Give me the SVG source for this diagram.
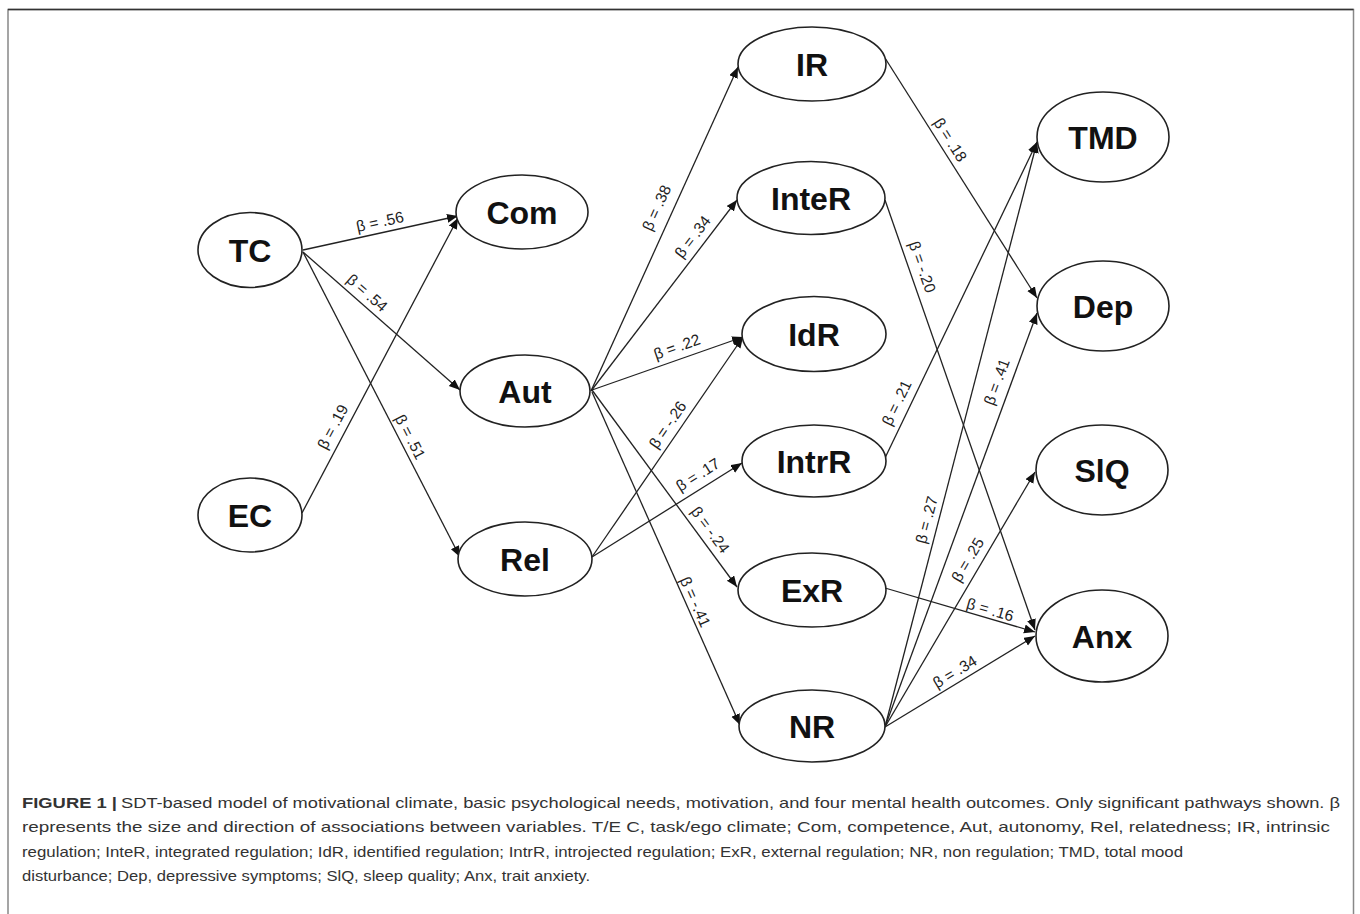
<svg xmlns="http://www.w3.org/2000/svg" width="1360" height="914" viewBox="0 0 1360 914">
<style>
.node ellipse{fill:#fff;stroke:#222;stroke-width:1.6}
.node text{font-family:"Liberation Sans",Arial,sans-serif;font-weight:bold;font-size:32px;fill:#111;text-anchor:middle}
#edges line{stroke:#222;stroke-width:1.3;marker-end:url(#ah)}
.lbl{font-family:"Liberation Sans",Arial,sans-serif;font-size:15.5px;fill:#222;text-anchor:middle}
.cap{font-family:"Liberation Sans",Arial,sans-serif;font-size:15px;fill:#333}
</style>
<defs>
<marker id="ah" markerUnits="userSpaceOnUse" markerWidth="12" markerHeight="10" refX="11" refY="4.5" orient="auto">
<path d="M0,0 L11,4.5 L0,9 Z" fill="#111"/>
</marker>
</defs>
<rect x="0" y="0" width="1360" height="914" fill="#fff"/>
<rect x="8" y="9.5" width="1345.5" height="910" fill="none" stroke="#888" stroke-width="1.5"/>
<line x1="8" y1="9.5" x2="1353.5" y2="9.5" stroke="#333" stroke-width="1.5"/>

<g id="edges">
<line x1="303" y1="250" x2="458" y2="216"/>
<line x1="303" y1="252" x2="460" y2="390"/>
<line x1="303" y1="252" x2="460" y2="557"/>
<line x1="302" y1="513" x2="458" y2="218"/>
<line x1="591" y1="391" x2="738" y2="67"/>
<line x1="591" y1="391" x2="737" y2="200"/>
<line x1="592" y1="390" x2="743" y2="337"/>
<line x1="592" y1="557" x2="743" y2="337"/>
<line x1="592" y1="557" x2="742" y2="463"/>
<line x1="592" y1="390" x2="737" y2="587"/>
<line x1="592" y1="392" x2="740" y2="725"/>
<line x1="885" y1="58" x2="1037" y2="298"/>
<line x1="885" y1="200" x2="1035" y2="630"/>
<line x1="885" y1="458" x2="1037" y2="142"/>
<line x1="885" y1="588" x2="1035" y2="632"/>
<line x1="885" y1="727" x2="1037" y2="142"/>
<line x1="885" y1="727" x2="1037" y2="313"/>
<line x1="885" y1="727" x2="1035" y2="472"/>
<line x1="885" y1="727" x2="1035" y2="636"/>
</g>

<g id="labels">
<text class="lbl" transform="translate(380,222) rotate(-12.4)" dy="5">β = .56</text>
<text class="lbl" transform="translate(367,293) rotate(41.3)" dy="5">β = .54</text>
<text class="lbl" transform="translate(410,437) rotate(62.8)" dy="5">β = .51</text>
<text class="lbl" transform="translate(333,427) rotate(-62.1)" dy="5">β = .19</text>
<text class="lbl" transform="translate(657,208) rotate(-65.6)" dy="5">β = .38</text>
<text class="lbl" transform="translate(693,237) rotate(-52.6)" dy="5">β = .34</text>
<text class="lbl" transform="translate(677,347) rotate(-19.3)" dy="5">β = .22</text>
<text class="lbl" transform="translate(668,425) rotate(-55.5)" dy="5">β = -.26</text>
<text class="lbl" transform="translate(698,475) rotate(-32.1)" dy="5">β = .17</text>
<text class="lbl" transform="translate(710,530) rotate(53.6)" dy="5">β = -.24</text>
<text class="lbl" transform="translate(695,602) rotate(66)" dy="5">β = -.41</text>
<text class="lbl" transform="translate(950,140) rotate(57.7)" dy="5">β = .18</text>
<text class="lbl" transform="translate(922,267) rotate(70.8)" dy="5">β = -.20</text>
<text class="lbl" transform="translate(897,403) rotate(-64.3)" dy="5">β = .21</text>
<text class="lbl" transform="translate(990,610) rotate(16.3)" dy="5">β = .16</text>
<text class="lbl" transform="translate(927,520) rotate(-75.4)" dy="5">β = .27</text>
<text class="lbl" transform="translate(997,382) rotate(-69.8)" dy="5">β = .41</text>
<text class="lbl" transform="translate(968,560) rotate(-59.5)" dy="5">β = .25</text>
<text class="lbl" transform="translate(955,672) rotate(-31.2)" dy="5">β = .34</text>
</g>

<g id="TC" class="node"><ellipse cx="250" cy="250" rx="52" ry="37.5"/><text x="250" y="262">TC</text></g>
<g id="EC" class="node"><ellipse cx="250" cy="515" rx="52" ry="37"/><text x="250" y="527">EC</text></g>
<g id="Com" class="node"><ellipse cx="522" cy="212" rx="66" ry="37"/><text x="522" y="224">Com</text></g>
<g id="Aut" class="node"><ellipse cx="525" cy="391" rx="65" ry="36"/><text x="525" y="403">Aut</text></g>
<g id="Rel" class="node"><ellipse cx="525" cy="559" rx="67" ry="37"/><text x="525" y="571">Rel</text></g>
<g id="IR" class="node"><ellipse cx="812" cy="64" rx="74" ry="37"/><text x="812" y="76">IR</text></g>
<g id="InteR" class="node"><ellipse cx="811" cy="198" rx="74" ry="36.5"/><text x="811" y="210">InteR</text></g>
<g id="IdR" class="node"><ellipse cx="814" cy="334" rx="72" ry="37.5"/><text x="814" y="346">IdR</text></g>
<g id="IntrR" class="node"><ellipse cx="814" cy="461" rx="72" ry="36"/><text x="814" y="473">IntrR</text></g>
<g id="ExR" class="node"><ellipse cx="812" cy="590" rx="74" ry="37"/><text x="812" y="602">ExR</text></g>
<g id="NR" class="node"><ellipse cx="812" cy="726" rx="73" ry="36"/><text x="812" y="738">NR</text></g>
<g id="TMD" class="node"><ellipse cx="1103" cy="137" rx="66" ry="45"/><text x="1103" y="149">TMD</text></g>
<g id="Dep" class="node"><ellipse cx="1103" cy="306" rx="66" ry="45"/><text x="1103" y="318">Dep</text></g>
<g id="SlQ" class="node"><ellipse cx="1102" cy="470" rx="66" ry="45"/><text x="1102" y="482">SlQ</text></g>
<g id="Anx" class="node"><ellipse cx="1102" cy="636" rx="66" ry="46"/><text x="1102" y="648">Anx</text></g>

<g id="caption">
<text class="cap" x="22" y="808" font-weight="bold" fill="#222" textLength="95" lengthAdjust="spacingAndGlyphs">FIGURE 1 |</text>
<text class="cap" x="121" y="808" textLength="1219" lengthAdjust="spacingAndGlyphs">SDT-based model of motivational climate, basic psychological needs, motivation, and four mental health outcomes. Only significant pathways shown. β</text>
<text class="cap" x="22" y="832" textLength="1308" lengthAdjust="spacingAndGlyphs">represents the size and direction of associations between variables. T/E C, task/ego climate; Com, competence, Aut, autonomy, Rel, relatedness; IR, intrinsic</text>
<text class="cap" x="22" y="857" textLength="1161" lengthAdjust="spacingAndGlyphs">regulation; InteR, integrated regulation; IdR, identified regulation; IntrR, introjected regulation; ExR, external regulation; NR, non regulation; TMD, total mood</text>
<text class="cap" x="22" y="881" textLength="568" lengthAdjust="spacingAndGlyphs">disturbance; Dep, depressive symptoms; SlQ, sleep quality; Anx, trait anxiety.</text>
</g>
</svg>
